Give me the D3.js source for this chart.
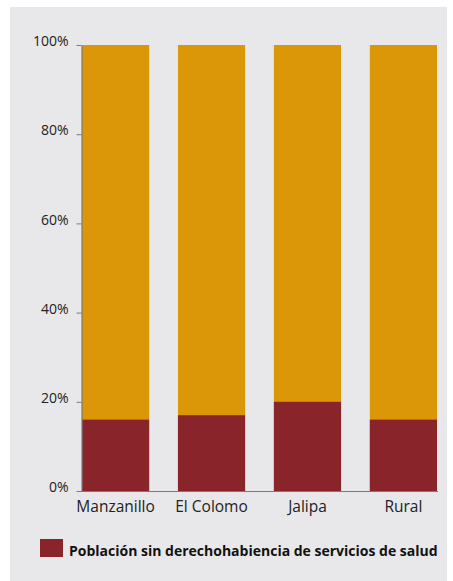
<!DOCTYPE html>
<html>
<head>
<meta charset="utf-8">
<script src="https://cdn.jsdelivr.net/npm/d3@7"></script>
<style>
  html, body { margin: 0; padding: 0; background: #ffffff; }
  svg { display: block; }
  text { font-family: "Open Sans", "Noto Sans", sans-serif; }
</style>
</head>
<body>
<svg id="chart" width="453" height="581"></svg>
<script>
const categories = ["Manzanillo", "El Colomo", "Jalipa", "Rural"];
const sinDerecho = [16, 17, 20, 16];
const total = [100, 100, 100, 100];
const yTicks = [0, 20, 40, 60, 80, 100];
const legendLabel = "Población sin derechohabiencia de servicios de salud";

const svg = d3.select("#chart");

svg.append("rect").attr("x", 10).attr("y", 7).attr("width", 437).attr("height", 574).attr("fill", "#e8e8ea");

const x = d3.scaleBand().domain(categories).range([82, 437]).paddingInner(0.3).paddingOuter(0);
const y = d3.scaleLinear().domain([0, 100]).range([491, 45]);

const g = svg.append("g");

g.selectAll("rect.tot").data(categories).join("rect")
  .attr("class", "tot")
  .attr("x", d => x(d)).attr("width", x.bandwidth())
  .attr("y", (d, i) => y(total[i])).attr("height", (d, i) => y(0) - y(total[i]))
  .attr("fill", "#db9708");

g.selectAll("rect.sin").data(categories).join("rect")
  .attr("class", "sin")
  .attr("x", d => x(d)).attr("width", x.bandwidth())
  .attr("y", (d, i) => y(sinDerecho[i])).attr("height", (d, i) => y(0) - y(sinDerecho[i]))
  .attr("fill", "#88242a");

const yAxis = svg.append("g").attr("transform", "translate(81.5,0)")
  .call(d3.axisLeft(y).tickValues(yTicks).tickFormat(d => d + "%").tickSize(5).tickSizeOuter(0));
yAxis.select(".domain").attr("stroke", "#7a7a7a").attr("stroke-width", 1.2);
yAxis.selectAll(".tick line").attr("stroke", "#7a7a7a");
yAxis.selectAll(".tick text")
  .attr("x", -13).attr("dy", "0.05em")
  .attr("fill", "#222").style("font-size", "14px").style("font-family", "'Open Sans', sans-serif");

const xAxis = svg.append("g").attr("transform", "translate(0,491.5)")
  .call(d3.axisBottom(x).tickSize(0).tickPadding(10));
xAxis.select(".domain").attr("stroke", "#7a7a7a").attr("stroke-width", 1.2)
  .attr("d", "M81,0H438");
xAxis.selectAll(".tick text")
  .attr("fill", "#222").style("font-size", "15.5px").style("font-family", "'Open Sans', sans-serif")
  .attr("dy", "0.68em");

svg.append("rect").attr("x", 40).attr("y", 539).attr("width", 23).attr("height", 18).attr("fill", "#88242a");
svg.append("text").attr("x", 69).attr("y", 555.5)
  .attr("fill", "#111").style("font-size", "14px").style("font-weight", "bold")
  .text(legendLabel);
</script>
</body>
</html>
